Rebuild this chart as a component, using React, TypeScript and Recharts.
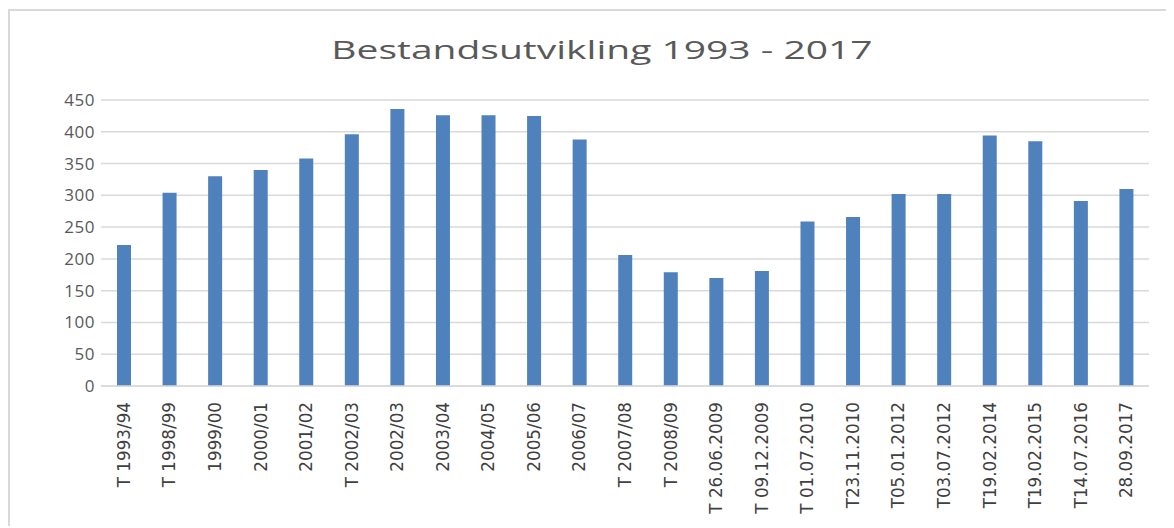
import * as React from "react";
import { BarChart, Bar, XAxis, YAxis, CartesianGrid } from "recharts";

const TITLE = "Bestandsutvikling 1993 - 2017";

const periods = [
  "T 1993/94",
  "T 1998/99",
  "1999/00",
  "2000/01",
  "2001/02",
  "T 2002/03",
  "2002/03",
  "2003/04",
  "2004/05",
  "2005/06",
  "2006/07",
  "T 2007/08",
  "T 2008/09",
  "T 26.06.2009",
  "T 09.12.2009",
  "T 01.07.2010",
  "T23.11.2010",
  "T05.01.2012",
  "T03.07.2012",
  "T19.02.2014",
  "T19.02.2015",
  "T14.07.2016",
  "28.09.2017",
];

const stock = [
  222, 304, 330, 340, 358, 396, 436, 426, 426, 425, 388, 206, 179, 170, 181,
  259, 266, 302, 302, 394, 385, 291, 310,
];

const yTicks = [0, 50, 100, 150, 200, 250, 300, 350, 400, 450];

const BAR_COLOR = "#4f81bd";
const GRID = "#d9d9d9";

const data = periods.map((p, i) => ({ period: p, value: stock[i] }));

// rotated labels, reading bottom to top, ending just under the axis
function PeriodTick(props: any) {
  const { x, y, payload } = props;
  return (
    <g transform={`translate(${x},${y + 16})`}>
      <text
        x={0}
        y={0}
        dy="0.36em"
        textAnchor="end"
        transform="rotate(-90)"
        fill="#404040"
        fontSize={16.8}
        fontFamily="'DejaVu Sans', sans-serif"
      >
        {payload.value}
      </text>
    </g>
  );
}

export default function App() {
  return (
    <div
      style={{
        position: "relative",
        top: 1,
        width: 1164,
        height: 516,
        borderLeft: `2px solid ${GRID}`,
        borderTop: `2px solid ${GRID}`,
        background: "#fff",
      }}
    >
      <div
        style={{
          position: "absolute",
          left: 20,
          width: 1144,
          top: 25,
          textAlign: "center",
          fontFamily: "'Open Sans', sans-serif",
          fontSize: 26,
          lineHeight: "26px",
          color: "#595959",
          transform: "scaleX(1.5)",
          transformOrigin: "center",
          whiteSpace: "nowrap",
        }}
      >
        {TITLE}
      </div>
      <BarChart
        width={1164}
        height={516}
        data={data}
        margin={{ top: 89, right: 25, bottom: 10, left: 0 }}
      >
        <CartesianGrid
          vertical={false}
          stroke={GRID}
          strokeWidth={1.5}
        />
        <XAxis
          dataKey="period"
          interval={0}
          height={131}
          tickSize={0}
          tickMargin={0}
          tick={<PeriodTick />}
          axisLine={{ stroke: GRID, strokeWidth: 1.5 }}
          tickLine={false}
        />
        <YAxis
          domain={[0, 450]}
          ticks={yTicks}
          width={91}
          tickSize={0}
          tickMargin={6}
          axisLine={false}
          tickLine={false}
          tick={{
            fill: "#595959",
            fontSize: 17,
            letterSpacing: 0.5,
            fontFamily: "'Open Sans', sans-serif",
          }}
        />
        <Bar
          dataKey="value"
          fill={BAR_COLOR}
          barSize={14}
          isAnimationActive={false}
        />
      </BarChart>
    </div>
  );
}
